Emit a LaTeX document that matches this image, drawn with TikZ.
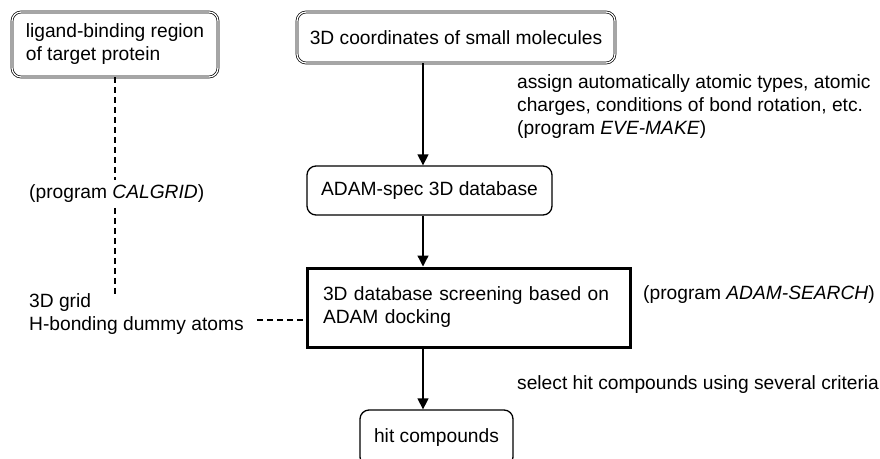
\documentclass[tikz,border=0pt]{standalone}
\usepackage{fontspec}
\setmainfont{Liberation Sans}
\usetikzlibrary{arrows.meta}
\begin{document}
\begin{tikzpicture}[x=1pt,y=-1pt,
  every node/.style={font=\fontsize{19.2}{23}\selectfont},
  dbl/.style={draw, double, double distance=1.3pt, line width=0.7pt, rounded corners=9pt},
  rbox/.style={draw, line width=1.3pt, rounded corners=9pt},
  heavybox/.style={draw, line width=3pt},
  lbl/.style={inner sep=0pt, align=left, anchor=west},
  arr/.style={line width=1.3pt, -{Triangle[width=11pt,length=11pt]}},
  dsh/.style={line width=1.3pt, dash pattern=on 6pt off 4pt}
]
\useasboundingbox (0,0) rectangle (880,458);
\clip (0,0) rectangle (880,458);

\node[dbl, minimum width=206pt, minimum height=65pt, align=left] (lig) at (115,44.5) {ligand-binding region\\of target protein};
\node[dbl, minimum width=318pt, minimum height=51pt] (coords) at (456,37.5) {3D coordinates of small molecules};
\node[rbox, minimum width=245pt, minimum height=49pt] (db) at (429.5,190.5) {ADAM-spec 3D database};
\node[heavybox, text width=291pt, inner xsep=16pt, minimum height=79pt, align=left] (screen) at (468.5,307.5) {3D database screening based on\\ADAM docking};
\node[rbox, minimum width=153pt, minimum height=56pt] (hit) at (436.5,438) {hit compounds};

\coordinate (ax) at (423,0);
\draw[arr] (coords.south -| ax) -- (db.north -| ax);
\draw[arr] (db.south -| ax) -- (screen.north -| ax);
\draw[arr] (screen.south -| ax) -- (hit.north -| ax);

\node[lbl, outer ysep=5pt] (calgrid) at (29,194) {(program \textit{CALGRID})};
\node[lbl] (grid) at (29,314) {3D grid\\H-bonding dummy atoms};
\coordinate (gend) at (115,295);
\draw[dsh] (lig.south) -- (calgrid.north -| lig.south);
\draw[dsh] (calgrid.south -| lig.south) -- (gend);
\coordinate (hd) at (257,320);
\draw[dsh] (hd) -- (hd -| screen.west);

\node[lbl] (assign) at (517,107) {\fontsize{19.2}{20.5}\selectfont assign automatically atomic types, atomic\\charges, conditions of bond rotation, etc.\\(program \textit{EVE-MAKE})};
\node[lbl] (search) at (643,295) {(program \textit{ADAM-SEARCH})};
\node[lbl] (select) at (517,385) {select hit compounds using several criteria};
\end{tikzpicture}
\end{document}
